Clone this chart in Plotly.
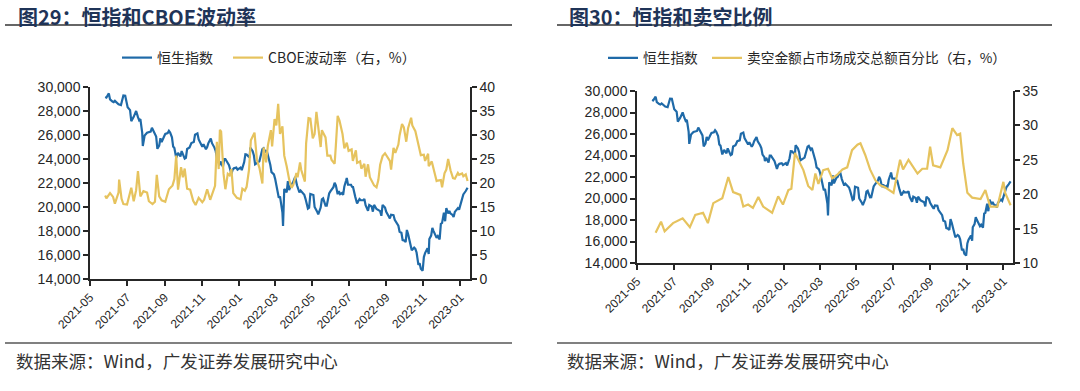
import plotly.graph_objects as go

# ---------------- data ----------------
hsi_dates = [
    "2021-05-26","2021-05-28","2021-06-01","2021-06-03","2021-06-07","2021-06-09","2021-06-11","2021-06-15",
    "2021-06-17","2021-06-21","2021-06-23","2021-06-25","2021-06-28","2021-06-30","2021-07-02","2021-07-06",
    "2021-07-08","2021-07-12","2021-07-14","2021-07-16","2021-07-19","2021-07-21","2021-07-23","2021-07-26",
    "2021-07-27","2021-07-28","2021-07-30","2021-08-03","2021-08-05","2021-08-09","2021-08-11","2021-08-13",
    "2021-08-16","2021-08-18","2021-08-20","2021-08-23","2021-08-25","2021-08-27","2021-08-31","2021-09-02",
    "2021-09-06","2021-09-08","2021-09-10","2021-09-13","2021-09-15","2021-09-17","2021-09-20","2021-09-23",
    "2021-09-27","2021-09-29","2021-10-04","2021-10-06","2021-10-08","2021-10-12","2021-10-15","2021-10-19",
    "2021-10-21","2021-10-25","2021-10-27","2021-10-29","2021-11-02","2021-11-04","2021-11-08","2021-11-10",
    "2021-11-12","2021-11-16","2021-11-18","2021-11-22","2021-11-24","2021-11-26","2021-11-29","2021-11-30",
    "2021-12-02","2021-12-06","2021-12-08","2021-12-10","2021-12-14","2021-12-16","2021-12-20","2021-12-22",
    "2021-12-24","2021-12-28","2021-12-30","2022-01-04","2022-01-06","2022-01-10","2022-01-12","2022-01-14",
    "2022-01-17","2022-01-19","2022-01-20","2022-01-24","2022-01-26","2022-01-28","2022-02-04","2022-02-07",
    "2022-02-09","2022-02-11","2022-02-14","2022-02-16","2022-02-18","2022-02-22","2022-02-24","2022-02-28",
    "2022-03-02","2022-03-04","2022-03-07","2022-03-08","2022-03-10","2022-03-11","2022-03-14","2022-03-15",
    "2022-03-16","2022-03-17","2022-03-21","2022-03-23","2022-03-25","2022-03-29","2022-03-31","2022-04-04",
    "2022-04-07","2022-04-11","2022-04-13","2022-04-19","2022-04-21","2022-04-25","2022-04-27","2022-04-29",
    "2022-05-04","2022-05-06","2022-05-10","2022-05-12","2022-05-16","2022-05-18","2022-05-20","2022-05-24",
    "2022-05-26","2022-05-30","2022-06-01","2022-06-06","2022-06-08","2022-06-10","2022-06-13","2022-06-15",
    "2022-06-17","2022-06-20","2022-06-22","2022-06-24","2022-06-27","2022-06-28","2022-06-30","2022-07-05",
    "2022-07-07","2022-07-08","2022-07-12","2022-07-14","2022-07-15","2022-07-19","2022-07-21","2022-07-25",
    "2022-07-27","2022-07-29","2022-08-02","2022-08-04","2022-08-08","2022-08-10","2022-08-12","2022-08-16",
    "2022-08-18","2022-08-22","2022-08-24","2022-08-26","2022-08-30","2022-09-01","2022-09-05","2022-09-07",
    "2022-09-09","2022-09-13","2022-09-15","2022-09-19","2022-09-21","2022-09-23","2022-09-26","2022-09-28",
    "2022-09-30","2022-10-03","2022-10-05","2022-10-07","2022-10-11","2022-10-13","2022-10-17","2022-10-19",
    "2022-10-21","2022-10-24","2022-10-26","2022-10-28","2022-10-31","2022-11-02","2022-11-04","2022-11-08",
    "2022-11-10","2022-11-11","2022-11-14","2022-11-16","2022-11-18","2022-11-21","2022-11-23","2022-11-25",
    "2022-11-28","2022-11-30","2022-12-02","2022-12-05","2022-12-07","2022-12-09","2022-12-12","2022-12-14",
    "2022-12-16","2022-12-19","2022-12-21","2022-12-23","2022-12-28","2022-12-30","2023-01-04","2023-01-06",
    "2023-01-10","2023-01-12","2023-01-13",
]
hsi_values = [
    29166,29124,29468,28966,28787,28740,28842,28639,
    28558,28489,28817,29288,29268,28828,28310,28073,
    27154,27516,27787,28004,27489,27224,27321,26192,
    25086,25473,25961,26194,26205,26283,26605,26391,
    26181,25867,24849,25109,25725,25407,25878,26090,
    26163,26353,26205,25813,25033,24920,24099,24510,
    24208,24663,24036,24104,24837,24963,25330,25410,
    26018,26133,25628,25377,25025,25225,24813,24996,
    25327,25713,25319,24951,24685,24080,23852,23475,
    23788,23349,23996,23996,23636,23475,22745,23102,
    23223,23280,23112,23289,23072,23746,24402,24383,
    24218,24128,24952,24656,24290,23551,23802,24580,
    24830,24906,24556,24718,24328,23520,22902,22713,
    22344,21906,21058,20766,20890,20554,19531,18415,
    20087,21501,21221,22154,21404,21928,21997,22502,
    21808,21208,21374,21027,20682,19870,19946,21089,
    21001,20002,19634,19380,19951,20644,20718,20112,
    20117,21124,21294,21653,22014,21806,21068,21308,
    21075,21163,21008,21719,22230,22419,21860,21854,
    21644,21725,20845,20298,20297,20662,20575,20563,
    20670,20157,19689,20174,20045,19610,20175,19830,
    19763,19657,19268,20170,19949,19597,19225,19044,
    19362,19326,18930,18566,18444,17933,17855,17250,
    17223,17079,18088,17740,16832,16389,16612,16511,
    16211,15180,15318,14863,14687,15827,16161,16558,
    16081,17326,17619,18257,17993,17656,17424,17573,
    17297,18597,18675,19518,18815,19901,19463,19674,
    19450,19353,19160,19593,19898,19781,20793,21052,
    21331,21514,21600,
]

cboe_dates = [
    "2021-05-26","2021-05-28","2021-06-03","2021-06-08","2021-06-11","2021-06-17","2021-06-18","2021-06-22",
    "2021-06-25","2021-07-01","2021-07-08","2021-07-12","2021-07-16","2021-07-19","2021-07-23","2021-07-28",
    "2021-08-03","2021-08-06","2021-08-12","2021-08-16","2021-08-19","2021-08-23","2021-08-27","2021-09-02",
    "2021-09-08","2021-09-14","2021-09-17","2021-09-20","2021-09-23","2021-09-28","2021-10-01","2021-10-04",
    "2021-10-08","2021-10-13","2021-10-18","2021-10-22","2021-10-27","2021-11-02","2021-11-05","2021-11-10",
    "2021-11-15","2021-11-19","2021-11-23","2021-11-26","2021-11-29","2021-12-01","2021-12-03","2021-12-07",
    "2021-12-10","2021-12-14","2021-12-17","2021-12-20","2021-12-23","2021-12-29","2022-01-04","2022-01-07",
    "2022-01-11","2022-01-14","2022-01-18","2022-01-21","2022-01-24","2022-01-27","2022-01-31","2022-02-04",
    "2022-02-09","2022-02-11","2022-02-15","2022-02-18","2022-02-23","2022-02-25","2022-03-01","2022-03-04",
    "2022-03-07","2022-03-10","2022-03-14","2022-03-17","2022-03-21","2022-03-25","2022-03-29","2022-04-01",
    "2022-04-06","2022-04-08","2022-04-12","2022-04-14","2022-04-20","2022-04-22","2022-04-26","2022-04-29",
    "2022-05-03","2022-05-06","2022-05-09","2022-05-12","2022-05-16","2022-05-18","2022-05-24","2022-05-27",
    "2022-06-01","2022-06-03","2022-06-08","2022-06-10","2022-06-13","2022-06-16","2022-06-21","2022-06-24",
    "2022-06-28","2022-07-01","2022-07-06","2022-07-08","2022-07-13","2022-07-15","2022-07-20","2022-07-22",
    "2022-07-27","2022-07-29","2022-08-02","2022-08-05","2022-08-10","2022-08-12","2022-08-16","2022-08-19",
    "2022-08-22","2022-08-26","2022-08-30","2022-09-02","2022-09-07","2022-09-09","2022-09-13","2022-09-16",
    "2022-09-21","2022-09-23","2022-09-27","2022-09-30","2022-10-04","2022-10-07","2022-10-12","2022-10-14",
    "2022-10-19","2022-10-21","2022-10-26","2022-10-28","2022-11-02","2022-11-04","2022-11-09","2022-11-10",
    "2022-11-15","2022-11-18","2022-11-23","2022-11-25","2022-11-30","2022-12-02","2022-12-06","2022-12-09",
    "2022-12-12","2022-12-16","2022-12-20","2022-12-23","2022-12-28","2022-12-30","2023-01-04","2023-01-06",
    "2023-01-10","2023-01-13",
]
cboe_values = [
    17.4,16.8,17.9,17.1,15.7,18.0,20.7,16.7,
    15.6,15.5,19.0,16.2,18.5,22.5,17.2,18.3,
    18.0,16.2,15.6,16.1,21.7,17.2,16.4,16.1,
    18.7,19.5,20.8,25.7,18.6,23.3,21.2,23.0,
    18.8,18.6,16.3,15.4,16.9,16.0,16.5,18.7,
    16.5,17.9,19.4,28.6,22.9,31.1,30.7,21.9,
    18.7,21.9,21.6,22.9,17.9,16.9,16.6,18.8,
    18.4,19.2,22.8,28.9,29.9,30.5,24.8,23.2,
    19.9,27.4,24.3,27.8,31.0,27.6,33.3,32.0,
    36.5,30.2,31.8,25.7,23.5,20.8,19.0,19.6,
    22.1,21.2,24.3,22.7,20.3,28.2,33.5,33.4,
    29.3,30.2,34.8,31.8,27.5,31.0,29.5,25.7,
    25.7,24.8,24.0,27.8,34.0,33.0,30.2,27.2,
    28.4,26.7,27.0,24.6,26.8,24.2,24.5,23.0,
    24.0,21.3,23.9,21.2,19.7,19.5,19.1,20.6,
    23.8,25.6,26.2,25.5,24.6,22.8,27.3,26.3,
    28.0,29.9,32.3,31.6,28.6,31.4,33.6,32.0,
    30.8,29.7,27.3,25.8,25.9,24.6,26.1,23.5,
    24.5,23.1,20.4,20.5,20.6,19.1,22.0,22.8,
    25.0,22.6,21.0,20.9,22.1,21.7,22.0,21.4,
    21.8,20.4,
]

short_dates = [
    "2021-06-01","2021-06-10","2021-06-16","2021-06-30","2021-07-16","2021-07-28","2021-08-06","2021-08-19",
    "2021-08-27","2021-09-05","2021-09-20","2021-09-30","2021-10-08","2021-10-20","2021-10-25","2021-11-02",
    "2021-11-10","2021-11-19","2021-11-27","2021-12-12","2021-12-22","2021-12-30","2022-01-08","2022-01-13",
    "2022-01-19","2022-02-02","2022-02-10","2022-02-17","2022-02-22","2022-02-27","2022-03-07","2022-03-15",
    "2022-03-22","2022-03-30","2022-04-08","2022-04-16","2022-04-24","2022-05-03","2022-05-08","2022-05-16",
    "2022-05-24","2022-06-02","2022-06-10","2022-06-18","2022-07-02","2022-07-13","2022-07-18","2022-07-27",
    "2022-08-11","2022-08-19","2022-08-27","2022-09-01","2022-09-06","2022-09-18","2022-09-30","2022-10-08",
    "2022-10-16","2022-10-21","2022-10-26","2022-11-02","2022-11-10","2022-11-24","2022-12-02","2022-12-07",
    "2022-12-10","2022-12-22","2023-01-01","2023-01-04","2023-01-13",
]
short_values = [
    14.4,16.0,14.6,15.8,16.5,15.2,17.0,17.3,
    15.8,18.7,19.4,22.5,20.3,19.9,18.2,18.5,
    18.0,19.6,18.2,17.3,19.7,18.5,20.6,20.8,
    26.0,23.5,21.2,20.6,23.0,21.5,23.5,23.7,
    22.3,22.8,23.6,23.9,26.4,27.2,27.4,25.7,
    23.6,22.0,21.3,21.0,20.2,25.0,23.6,25.0,
    23.0,23.7,23.7,26.9,24.2,23.9,26.4,29.6,
    28.6,28.8,24.5,20.2,19.5,19.3,20.6,19.0,
    18.2,18.2,21.8,20.2,18.4,
]

tick_labels = ["2021-05","2021-07","2021-09","2021-11","2022-01","2022-03",
               "2022-05","2022-07","2022-09","2022-11","2023-01"]

titles = ["图29：恒指和CBOE波动率", "图30：恒指和卖空比例"]
names_left = ["恒生指数", "CBOE波动率（右，%）"]
names_right = ["恒生指数", "卖空金额占市场成交总额百分比（右，%）"]
source_text = "数据来源：Wind，广发证券发展研究中心"

# ---------------- styling ----------------
W, H = 1080, 391
BLUE = "#1f6aa8"
YELLOW = "#e6c35e"
AXIS = "#262626"
TICKFONT = dict(family="Liberation Sans, Arial", size=14, color="#262626")
XTICKFONT = dict(family="Liberation Sans, Arial", size=12, color="#262626")
CJK = "Noto Sans CJK SC"

def px(x):
    return x / W

def py(y):
    return 1 - y / H

fig = go.Figure()

fig.add_trace(go.Scatter(x=hsi_dates, y=hsi_values, name=names_left[0], mode="lines",
                         line=dict(color=BLUE, width=2.2), xaxis="x", yaxis="y",
                         legend="legend", legendwidth=66))
fig.add_trace(go.Scatter(x=cboe_dates, y=cboe_values, name=names_left[1], mode="lines",
                         line=dict(color=YELLOW, width=2.2), xaxis="x", yaxis="y2",
                         legend="legend"))
fig.add_trace(go.Scatter(x=hsi_dates, y=hsi_values, name=names_right[0], mode="lines",
                         line=dict(color=BLUE, width=2.2), xaxis="x2", yaxis="y3",
                         legend="legend2", legendwidth=59))
fig.add_trace(go.Scatter(x=short_dates, y=short_values, name=names_right[1], mode="lines",
                         line=dict(color=YELLOW, width=2.2), xaxis="x2", yaxis="y4",
                         legend="legend2"))

tickvals = [t + "-01" for t in tick_labels]

def xaxis_cfg(domain, anchor):
    return dict(domain=domain, anchor=anchor, type="date",
                range=["2021-05-01", "2023-01-17"],
                tickvals=tickvals, ticktext=tick_labels, tickangle=-45,
                tickfont=XTICKFONT, showgrid=False, zeroline=False, automargin=False,
                showline=True, linecolor=AXIS, linewidth=1.5,
                ticks="outside", ticklen=5, tickcolor=AXIS, tickwidth=1.5)

def yaxis_cfg(domain, anchor, rng, dtick, side, fmt, overlay=None):
    d = dict(domain=domain, anchor=anchor, range=rng, dtick=dtick, tick0=rng[0],
             side=side, tickformat=fmt, tickfont=TICKFONT, showgrid=False,
             zeroline=False, showline=True, linecolor=AXIS, linewidth=1.5, automargin=False,
             ticks="outside", ticklen=5, tickcolor=AXIS, tickwidth=1.5)
    if overlay:
        d["overlaying"] = overlay
    return d

L_X = [px(90), px(470)]
L_Y = [py(279), py(87)]
R_X = [px(637), px(1013)]
R_Y = [py(263), py(91)]

fig.update_layout(
    width=W, height=H, autosize=False,
    margin=dict(l=0, r=0, t=0, b=0, pad=0, autoexpand=False),
    paper_bgcolor="white", plot_bgcolor="white",
    xaxis=xaxis_cfg(L_X, "y"),
    yaxis=yaxis_cfg(L_Y, "x", [14000, 30000], 2000, "left", ",d"),
    yaxis2=yaxis_cfg(L_Y, "x", [0, 40], 5, "right", "d", overlay="y"),
    xaxis2=xaxis_cfg(R_X, "y3"),
    yaxis3=yaxis_cfg(R_Y, "x2", [14000, 30000], 2000, "left", ",d"),
    yaxis4=yaxis_cfg(R_Y, "x2", [10, 35], 5, "right", "d", overlay="y3"),
    legend=dict(orientation="h", x=px(117), y=py(58), xanchor="left", yanchor="middle",
                font=dict(family=CJK, size=14, color="#262626"), itemwidth=30,
                bgcolor="rgba(0,0,0,0)"),
    legend2=dict(orientation="h", x=px(603), y=py(58), xanchor="left", yanchor="middle",
                 font=dict(family=CJK, size=13.7, color="#262626"), itemwidth=30,
                 bgcolor="rgba(0,0,0,0)"),
    showlegend=True,
)

# titles, separators, source notes
for i, (tx, lx0, lx1, sx) in enumerate([(16, 5, 512, 14), (567, 557, 1052, 565)]):
    fig.add_annotation(text="<b>" + titles[i] + "</b>", xref="paper", yref="paper",
                       x=px(tx), y=1.0, xanchor="left", yanchor="top", showarrow=False,
                       font=dict(family=CJK, size=20, color="#1f3458"))
    fig.add_shape(type="line", xref="paper", yref="paper", x0=px(lx0), x1=px(lx1),
                  y0=py(25), y1=py(25), line=dict(color="#333333", width=1.5))
    fig.add_shape(type="line", xref="paper", yref="paper", x0=px(lx0), x1=px(lx1),
                  y0=py(343), y1=py(343), line=dict(color="#808080", width=2))
    fig.add_annotation(text=source_text, xref="paper", yref="paper",
                       x=px(sx), y=py(360), xanchor="left", yanchor="middle", showarrow=False,
                       font=dict(family=CJK, size=17.5, color="#333333"))

fig.write_html(
    "out.html",
    config={"responsive": False, "displayModeBar": False},
    post_script="document.body.style.margin='0px';document.body.style.overflow='hidden';",
)
